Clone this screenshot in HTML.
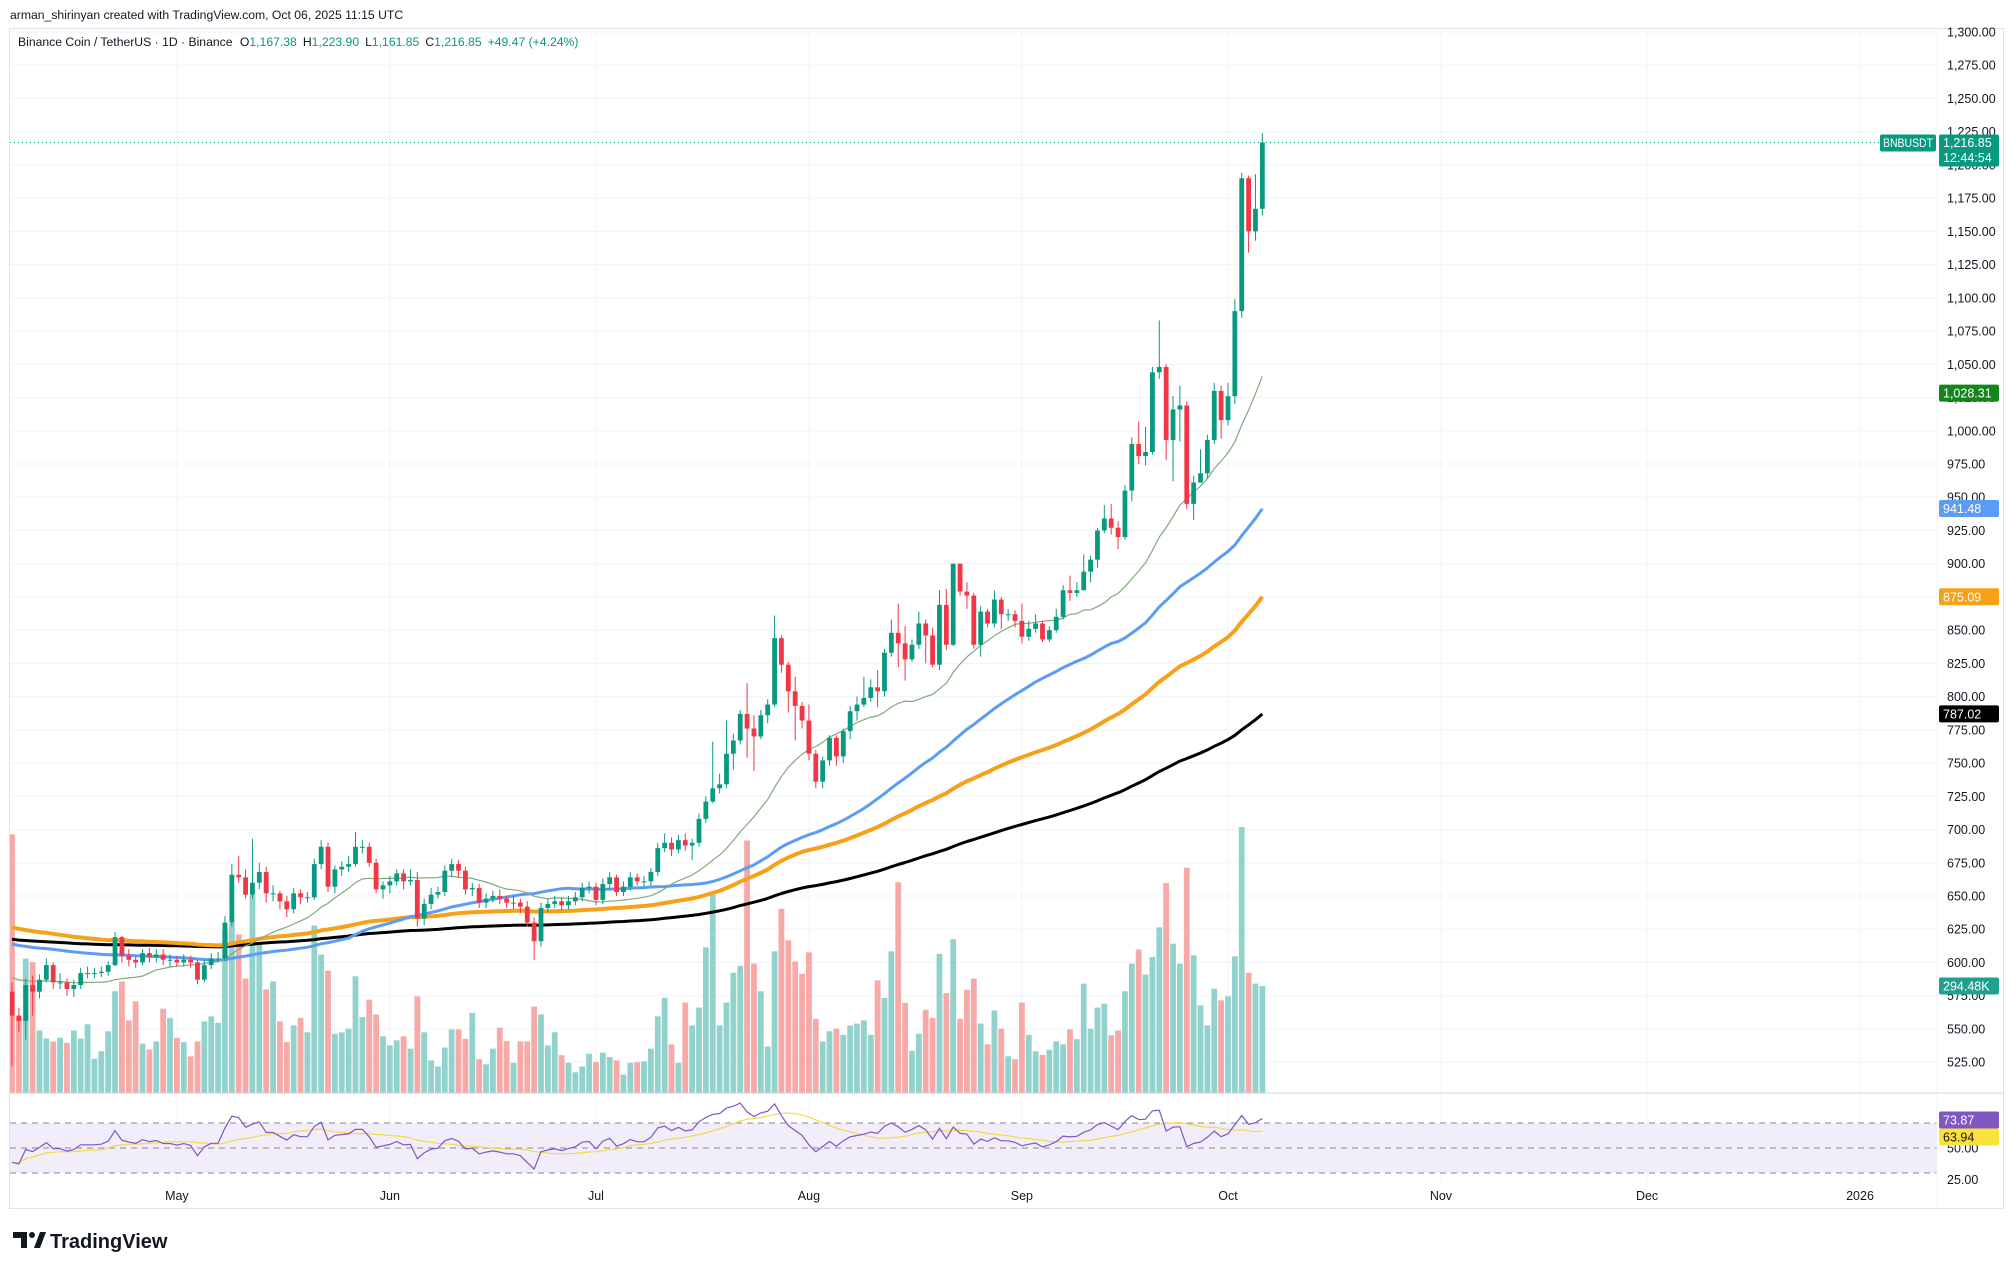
<!DOCTYPE html>
<html><head><meta charset="utf-8"><title>BNBUSDT chart</title>
<style>
html,body{margin:0;padding:0;background:#fff;}
svg{display:block;font-family:"Liberation Sans",Arial,sans-serif;}
</style></head>
<body>
<svg id="chart" width="2014" height="1269" viewBox="0 0 2014 1269" xmlns="http://www.w3.org/2000/svg">
  <rect x="0" y="0" width="2014" height="1269" fill="#ffffff"/>
  <text x="10" y="19" font-size="12.2" fill="#131722">arman_shirinyan created with TradingView.com, Oct 06, 2025 11:15 UTC</text>
  <g id="grid"></g>
  <g id="rsiBand"></g>
  <g id="volume"></g>
  <g id="mas"></g>
  <g id="candles"></g>
  <g id="rsi"></g>
  <line x1="10" y1="1093" x2="2004" y2="1093" stroke="#d1d4dc" stroke-width="1"/>
  <rect x="9.5" y="28.5" width="1994" height="1180" fill="none" stroke="#e0e3eb"/>
  <line x1="1937" y1="28" x2="1937" y2="1208" stroke="#f0f3fa"/>
  <g id="axis"></g>
  <g id="timeAxis"></g>
  <g id="labels"></g>
  <text x="18" y="46" font-size="12.2" fill="#131722">Binance Coin / TetherUS · 1D · Binance <tspan dx="4">O</tspan><tspan fill="#089981">1,167.38</tspan><tspan dx="6">H</tspan><tspan fill="#089981">1,223.90</tspan><tspan dx="6">L</tspan><tspan fill="#089981">1,161.85</tspan><tspan dx="6">C</tspan><tspan fill="#089981">1,216.85</tspan><tspan dx="6" fill="#089981">+49.47 (+4.24%)</tspan></text>
  <g>
    <path d="M13 1232 h14 v16 h-6 v-10 h-8 z" fill="#131722"/>
    <circle cx="32" cy="1235" r="3" fill="#131722"/>
    <path d="M34 1248 l6 -16 h6 l-6 16 z" fill="#131722"/>
    <text x="50" y="1248" font-size="20" font-weight="bold" fill="#131722">TradingView</text>
  </g>
</svg>
<script>
// ---- data ----
const firstOpen = 578;
const closes = [560,556,583,578,587,598,585,585,580,583,592,592,592,593,598,619,605,602,600,607,604,606,602,602,600,602,600,587,598,603,603,630,666,664,651,660,668,652,652,646,640,652,649,649,674,687,657,670,672,674,687,687,675,655,658,661,667,661,662,633,644,651,653,669,674,669,655,656,645,648,650,648,645,645,642,630,616,641,644,646,643,646,649,656,657,647,659,664,653,657,664,661,661,668,686,690,685,692,688,690,708,721,731,734,757,767,787,776,770,786,794,844,824,804,793,782,757,736,752,769,755,774,789,794,799,807,804,833,848,840,828,839,855,846,824,869,839,900,879,876,839,864,855,873,862,862,857,845,851,855,843,850,860,880,878,880,894,903,925,934,927,920,955,990,981,984,1044,1048,993,1016,1019,945,961,968,993,1030,1008,1026,1090,1190,1150,1167,1216.85];
const highs = [585,566,588,590,591,603,600,592,588,587,596,597,596,597,601,623,620,610,605,610,611,610,610,606,605,606,605,602,602,607,608,635,674,680,670,693,675,672,658,654,650,656,655,653,678,692,690,673,676,680,698,692,690,678,661,665,670,670,670,668,648,656,657,673,678,677,672,660,659,652,654,655,650,650,648,646,634,645,648,650,649,650,653,660,661,660,663,668,666,661,668,667,665,671,690,697,694,696,697,693,712,725,766,742,782,772,790,810,786,790,798,861,846,826,815,796,794,760,755,771,771,776,793,800,815,813,820,836,858,870,853,843,864,858,852,880,881,900,900,886,878,868,866,880,875,866,865,870,857,862,857,853,866,884,891,886,907,906,927,944,945,932,959,995,1007,1003,1048,1083,1050,1026,1034,1022,966,986,997,1036,1034,1036,1099,1194,1192,1193,1223.9];
const lows = [522,548,542,560,573,585,580,580,575,574,580,588,588,589,590,597,600,597,596,598,600,600,598,597,597,597,596,584,585,595,600,601,627,660,648,648,655,645,646,640,634,637,644,645,647,670,653,652,665,668,672,682,672,652,648,652,658,655,658,627,628,640,648,650,664,664,651,650,641,641,645,644,641,640,637,627,602,612,638,641,639,640,643,646,652,643,644,655,650,650,654,658,657,658,665,683,680,682,684,677,687,705,720,727,731,745,764,754,744,768,780,792,818,788,767,776,752,731,731,748,748,750,768,782,792,796,792,800,830,822,812,826,836,825,822,820,835,838,876,866,836,830,852,852,851,857,852,840,842,848,841,841,848,858,872,875,880,886,897,923,922,911,918,947,975,974,982,1039,978,962,992,941,933,963,964,990,994,1004,1020,1085,1134,1143,1161.85];
const volumesK = [712,207,370,360,172,150,142,152,138,172,150,189,94,115,170,280,307,200,252,136,120,142,232,207,152,140,101,142,197,211,193,447,468,436,315,547,409,285,307,197,140,186,207,167,461,381,337,163,167,177,321,209,257,216,156,131,145,156,122,266,167,90,73,125,175,175,149,220,93,79,122,180,143,83,142,142,238,216,131,167,104,83,57,73,108,85,111,99,90,51,83,85,87,122,211,262,134,83,249,186,235,401,547,186,249,331,350,695,356,280,128,390,507,420,362,328,387,204,142,170,177,160,186,191,200,160,310,262,390,580,248,116,163,229,207,383,275,423,204,284,315,191,134,227,177,101,93,249,160,115,105,119,142,134,175,148,301,177,235,246,159,172,280,356,395,326,374,456,578,411,356,620,379,241,186,287,255,266,376,732,331,301,294.48];
const priceTicks = [1300,1275,1250,1225,1200,1175,1150,1125,1100,1075,1050,1025,1000,975,950,925,900,875,850,825,800,775,750,725,700,675,650,625,600,575,550,525];
const monthLabels = ["May","Jun","Jul","Aug","Sep","Oct","Nov","Dec","2026"];
const monthDayIndex = [24,55,85,116,147,177,208,238,269];
const rsiTicks = [50,25];
const rsiLevels = [70,50,30];
const maSeeds = [590,615,628,618];          // sma20, sma50, ema100, ema200 starting levels
const maPrinted = [787.02,875.09,941.48,1028.31]; // ema200, ema100, sma50, sma20 printed values
const rsiPrinted = [73.87,63.94];
const rsiSeedGain = 4, rsiSeedLoss = 5;

// ---- scales ----
const NS = "http://www.w3.org/2000/svg";
const xAt = i => 12 + i * 6.87;
const yP = p => 32 + (1300 - p) * 1.3292;
const yV = k => 1093 - k / 2.752;
const yR = r => 1148 - (r - 50) * 1.25;
function mk(tag, attrs, parent){const e=document.createElementNS(NS,tag);for(const k in attrs)e.setAttribute(k,attrs[k]);parent.appendChild(e);return e;}
const fmt = v => v.toLocaleString('en-US',{minimumFractionDigits:2,maximumFractionDigits:2});

// grid
const grid = document.getElementById('grid');
priceTicks.forEach(p=>{
  const l = mk('line',{x1:10,x2:1937,y1:yP(p),y2:yP(p),stroke:'#f0f3fa','stroke-width':1},grid);
  
  
});
monthDayIndex.forEach(d=>{
  const l = mk('line',{x1:xAt(d),x2:xAt(d),y1:28,y2:1185,stroke:'#f0f3fa','stroke-width':1},grid);
  
  
});

// rsi band
const band = document.getElementById('rsiBand');
const br = mk('rect',{x:10,y:yR(70),width:1927,height:yR(30)-yR(70),fill:'#f1edf9'},band);


rsiLevels.forEach(v=>{
  const l = mk('line',{x1:10,x2:1937,y1:yR(v),y2:yR(v),stroke:'#868993','stroke-width':1,'stroke-dasharray':'6,5'},band);
  
  
});

// opens
const opens = closes.map((c,i)=> i===0 ? firstOpen : closes[i-1]);

// volume
const vg = document.getElementById('volume');
volumesK.forEach((v,i)=>{
  const up = closes[i] >= opens[i];
  const r = mk('rect',{x:xAt(i)-2.9,y:yV(v),width:5.8,height:1093-yV(v),fill: up?'#92d2cc':'#f7a9a7'},vg);
  
  
});

// moving averages
function sma(n, seed){return closes.map((c,i)=>{let s=0;for(let k=i-n+1;k<=i;k++)s+= k<0?seed:closes[k];return s/n;});}
function ema(n, seed){const a=2/(n+1);let e=seed;return closes.map(c=>{e=e+a*(c-e);return e;});}
const maDefs = [
  {vals: ema(200,maSeeds[3]), color:'#000000', w:3, name:'ema-200-line'},
  {vals: ema(100,maSeeds[2]), color:'#f7a11a', w:4, name:'ema-100-line'},
  {vals: sma(50,maSeeds[1]), color:'#5b9cf6', w:3, name:'sma-50-line'},
  {vals: sma(20,maSeeds[0]), color:'#81a97a', w:1.2, name:'sma-20-line'}
];
const mg = document.getElementById('mas');
maDefs.forEach(m=>{
  const d = m.vals.map((v,i)=>(i?'L':'M')+xAt(i).toFixed(1)+','+yP(v).toFixed(1)).join(' ');
  const p = mk('path',{d:d,fill:'none',stroke:m.color,'stroke-width':m.w,'stroke-linejoin':'round'},mg);
  
  
});

// candles
const cg = document.getElementById('candles');
closes.forEach((c,i)=>{
  const o = opens[i], up = c >= o, col = up ? '#089981' : '#f23645';
  const x = xAt(i);
  const w = mk('line',{x1:x,x2:x,y1:yP(highs[i]),y2:yP(lows[i]),stroke:col,'stroke-width':1},cg);
  
  
  const top = yP(Math.max(o,c)), bot = yP(Math.min(o,c));
  const b = mk('rect',{x:x-2.4,y:top,width:4.8,height:Math.max(1,bot-top),fill:col},cg);
  
  
});

// last price line
const lastC = closes[closes.length-1];
const lp = mk('line',{x1:10,x2:1880,y1:yP(lastC),y2:yP(lastC),stroke:'#089981','stroke-width':1,'stroke-dasharray':'1,3'},cg);



// RSI
const rsiVals = [];
let ag = rsiSeedGain, al = rsiSeedLoss;
closes.forEach((c,i)=>{
  const ch = c - opens[i];
  ag = (ag*13 + Math.max(ch,0))/14;
  al = (al*13 + Math.max(-ch,0))/14;
  rsiVals.push(100 - 100/(1+ag/al));
});
const rsiMa = rsiVals.map((v,i)=>{let s=0,n=0;for(let k=Math.max(0,i-13);k<=i;k++){s+=rsiVals[k];n++;}return s/n;});
const rg = document.getElementById('rsi');
const rm = mk('path',{d:rsiMa.map((v,i)=>(i?'L':'M')+xAt(i).toFixed(1)+','+yR(v).toFixed(1)).join(' '),fill:'none',stroke:'#f5d94a','stroke-width':1.2},rg);


const rl = mk('path',{d:rsiVals.map((v,i)=>(i?'L':'M')+xAt(i).toFixed(1)+','+yR(v).toFixed(1)).join(' '),fill:'none',stroke:'#7e57c2','stroke-width':1.2},rg);



// price axis
const ax = document.getElementById('axis');
priceTicks.forEach(p=>{
  const t = mk('text',{x:1947,y:yP(p)+4.5,'font-size':12.5,fill:'#131722'},ax);
  t.textContent = fmt(p);
  
  
});
rsiTicks.forEach(v=>{
  const t = mk('text',{x:1947,y:yR(v)+4.5,'font-size':12.5,fill:'#131722'},ax);
  t.textContent = fmt(v);
  
  
});

// time axis
const ta = document.getElementById('timeAxis');
monthLabels.forEach((m,k)=>{
  const t = mk('text',{x:xAt(monthDayIndex[k]),y:1200,'font-size':12.5,fill:'#131722','text-anchor':'middle'},ta);
  t.textContent = m;
  
  
});

// value labels
const lg = document.getElementById('labels');
function box(yc, h, text, bg, fg, name){
  const r = mk('rect',{x:1939,y:yc-h/2,width:60,height:h,rx:2,fill:bg},lg);
  
  
  const t = mk('text',{x:1943,y:yc+4.5,'font-size':12.5,fill:fg},lg);
  t.textContent = text;
  
  
}
box(yP(maPrinted[3]),17,fmt(maPrinted[3]),'#12861c','#ffffff','sma-20-value');
box(yP(maPrinted[2]),17,fmt(maPrinted[2]),'#5b9cf6','#ffffff','sma-50-value');
box(yP(maPrinted[1]),17,fmt(maPrinted[1]),'#f7a11a','#ffffff','ema-100-value');
box(yP(maPrinted[0]),17,fmt(maPrinted[0]),'#000000','#ffffff','ema-200-value');
box(yV(volumesK[volumesK.length-1]),17,volumesK[volumesK.length-1].toFixed(2)+'K','#22a08f','#ffffff','volume-value');
box(1120,17,rsiPrinted[0].toFixed(2),'#7e57c2','#ffffff','rsi-value');
box(1137,17,rsiPrinted[1].toFixed(2),'#fbe13c','#131722','rsi-ma-value');
// last price
const ly = yP(lastC);
const sr = mk('rect',{x:1880,y:ly-8,width:56,height:17,rx:2,fill:'#089981'},lg);


const st = mk('text',{x:1883,y:ly+4.5,'font-size':11.5,fill:'#ffffff',textLength:50,lengthAdjust:'spacingAndGlyphs'},lg);
st.textContent = 'BNBUSDT';


const pr = mk('rect',{x:1939,y:ly-8,width:60,height:32,rx:2,fill:'#089981'},lg);


const pt = mk('text',{x:1943,y:ly+4.5,'font-size':12.5,fill:'#ffffff'},lg);
pt.textContent = fmt(lastC);


const ct = mk('text',{x:1943,y:ly+19.5,'font-size':12.5,fill:'#ffffff'},lg);
ct.textContent = '12:44:54';


</script>
</body></html>
